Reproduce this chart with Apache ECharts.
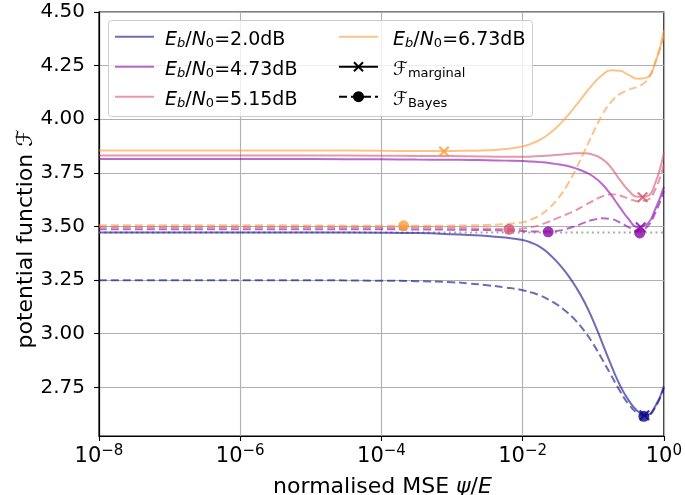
<!DOCTYPE html>
<html>
<head>
<meta charset="utf-8">
<script src="https://cdn.jsdelivr.net/npm/echarts@6/dist/echarts.min.js"></script>
<style>html,body{margin:0;padding:0;background:#fff}#c{width:685px;height:495px}</style>
</head>
<body>
<div id="c"></div>
<script>
// ---- data ----
const psi = [1e-8, 1e-5, 1e-4, 3.16e-4, 1e-3, 1.78e-3, 3.16e-3, 5.62e-3, 1e-2, 1.33e-2, 1.78e-2, 2.37e-2, 3.16e-2,
             4.22e-2, 5.62e-2, 7.5e-2, 0.1, 0.133, 0.178, 0.237, 0.316, 0.422, 0.562, 0.75, 1];
const snrLabels = ['2.0', '4.73', '5.15', '6.73'];
const colors = ['#0d0887', '#8707a6', '#d5536f', '#fa9b3a'];
const marg20   = [3.472, 3.472, 3.471, 3.469, 3.464, 3.460, 3.455, 3.448, 3.437, 3.424, 3.404, 3.372, 3.330,
                  3.280, 3.220, 3.148, 3.060, 2.960, 2.856, 2.762, 2.690, 2.640, 2.621, 2.660, 2.755];
const bayes20  = [3.249, 3.249, 3.247, 3.245, 3.240, 3.234, 3.226, 3.216, 3.203, 3.192, 3.178, 3.158, 3.133,
                  3.101, 3.062, 3.012, 2.952, 2.882, 2.808, 2.735, 2.672, 2.630, 2.617, 2.655, 2.748];
const marg473  = [3.814, 3.814, 3.813, 3.812, 3.811, 3.810, 3.809, 3.807, 3.805, 3.803, 3.800, 3.796, 3.790,
                  3.783, 3.771, 3.755, 3.733, 3.698, 3.648, 3.590, 3.535, 3.498, 3.508, 3.578, 3.685];
const bayes473 = [3.487, 3.487, 3.487, 3.486, 3.485, 3.484, 3.483, 3.481, 3.479, 3.477, 3.476, 3.476, 3.480,
                  3.489, 3.502, 3.518, 3.531, 3.538, 3.535, 3.519, 3.497, 3.477, 3.494, 3.560, 3.665];
const marg515  = [3.831, 3.831, 3.830, 3.829, 3.828, 3.827, 3.826, 3.825, 3.825, 3.826, 3.828, 3.831, 3.834,
                  3.838, 3.841, 3.841, 3.834, 3.815, 3.776, 3.718, 3.668, 3.638, 3.640, 3.700, 3.845];
const bayes515 = [3.497, 3.497, 3.496, 3.495, 3.494, 3.492, 3.490, 3.488, 3.491, 3.497, 3.508, 3.523, 3.540,
                  3.557, 3.575, 3.598, 3.620, 3.640, 3.650, 3.644, 3.630, 3.618, 3.622, 3.670, 3.790];
const marg673  = [3.854, 3.854, 3.853, 3.852, 3.852, 3.853, 3.855, 3.861, 3.873, 3.886, 3.905, 3.932, 3.968,
                  4.012, 4.062, 4.115, 4.165, 4.205, 4.228, 4.226, 4.207, 4.189, 4.193, 4.260, 4.415];
const bayes673 = [3.506, 3.505, 3.503, 3.503, 3.504, 3.505, 3.507, 3.511, 3.520, 3.533, 3.553, 3.585, 3.630,
                  3.690, 3.765, 3.850, 3.938, 4.018, 4.080, 4.117, 4.137, 4.152, 4.177, 4.262, 4.390];
const refLevel = 3.472;
// minima markers: [psi, F, colourIndex]
const margMin  = [[7.7e-4, 3.850, 3], [0.50, 3.636, 2], [0.47, 3.496, 1], [0.53, 2.620, 0]];
const bayesMin = [[2.06e-4, 3.503, 3], [6.4e-3, 3.487, 2], [2.3e-2, 3.475, 1], [0.455, 3.470, 1], [0.52, 2.615, 0]];
const yTicks = [2.75, 3.00, 3.25, 3.50, 3.75, 4.00, 4.25, 4.50];

// ---- chart ----
const FONT = 'DejaVu Sans';
const pair = ys => psi.map((x, i) => [x, ys[i]]);
function alpha(hex, a) {
  const r = parseInt(hex.slice(1, 3), 16), g = parseInt(hex.slice(3, 5), 16), b = parseInt(hex.slice(5, 7), 16);
  return `rgba(${r},${g},${b},${a})`;
}
const margSets = [marg20, marg473, marg515, marg673];
const bayesSets = [bayes20, bayes473, bayes515, bayes673];
const DASH = [8, 4];
const XPATH = 'path://M0,1.4 L1.4,0 L5,3.6 L8.6,0 L10,1.4 L6.4,5 L10,8.6 L8.6,10 L5,6.4 L1.4,10 L0,8.6 L3.6,5 Z';

const series = [];
series.push({
  type: 'line', data: [[psi[0], refLevel], [psi[psi.length - 1], refLevel]], symbol: 'none', silent: true,
  lineStyle: { color: '#aaaaaa', width: 2, type: [2, 3.3] }, z: 1
});
for (let k = 0; k < 4; k++) {
  series.push({
    type: 'line', data: pair(margSets[k]), symbol: 'none', smooth: 0.5, silent: true,
    lineStyle: { color: alpha(colors[k], 0.6), width: 2 }, z: 2
  });
  series.push({
    type: 'line', data: pair(bayesSets[k]), symbol: 'none', smooth: 0.5, silent: true,
    lineStyle: { color: alpha(colors[k], 0.6), width: 2, type: DASH }, z: 2
  });
}
series.push({
  type: 'scatter', data: margMin.map(d => ({ value: [d[0], d[1]], itemStyle: { color: colors[d[2]] } })),
  symbol: XPATH, symbolSize: 11, silent: true, z: 5
});
series.push({
  type: 'scatter', data: bayesMin.map(d => ({ value: [d[0], d[1]], itemStyle: { color: colors[d[2]] } })),
  symbol: 'circle', symbolSize: 11, silent: true, z: 5
});

function mathRich(size) {
  const sub = Math.round(size * 0.7);
  return {
    n: { fontFamily: FONT, fontSize: size, color: '#000', lineHeight: size + 5, verticalAlign: 'bottom' },
    i: { fontFamily: FONT, fontSize: size, color: '#000', fontStyle: 'italic', lineHeight: size + 5, verticalAlign: 'bottom' },
    si: { fontFamily: FONT, fontSize: sub, fontStyle: 'italic', color: '#000', lineHeight: sub, verticalAlign: 'bottom' },
    s: { fontFamily: FONT, fontSize: sub, color: '#000', lineHeight: sub, verticalAlign: 'bottom' }
  };
}
const richLegend = mathRich(19);
const richTitle = mathRich(22);

// legend (drawn as graphics)
const legend = [];
legend.push({ type: 'rect', shape: { x: 108.5, y: 20.5, width: 424, height: 96, r: 3 },
  style: { fill: 'rgba(255,255,255,0.8)', stroke: '#cccccc', lineWidth: 1 }, z: 50 });
const rowsY = [36.7, 66.7, 96.7];
const entries = [
  { col: 0, row: 0, k: 0 }, { col: 0, row: 1, k: 1 }, { col: 0, row: 2, k: 2 }, { col: 1, row: 0, k: 3 }
];
const colX = [[115, 154, 165], [339, 378, 393]];
entries.forEach(e => {
  const [x1, x2, tx] = colX[e.col];
  const y = rowsY[e.row];
  legend.push({ type: 'line', shape: { x1, y1: y, x2, y2: y }, style: { stroke: alpha(colors[e.k], 0.6), lineWidth: 2 }, z: 51 });
  legend.push({ type: 'text', x: tx, y: y + 1, z: 51, style: {
    text: `{i|E}{si|b}{n|/}{i|N}{s|0}{n|=${snrLabels[e.k]}dB}`, rich: richLegend, verticalAlign: 'middle', align: 'left' } });
});
// style entries
legend.push({ type: 'line', shape: { x1: 339, y1: 66.7, x2: 378, y2: 66.7 }, style: { stroke: '#000', lineWidth: 2 }, z: 51 });
legend.push({ type: 'line', shape: { x1: 354, y1: 62.2, x2: 363, y2: 71.2 }, style: { stroke: '#000', lineWidth: 2 }, z: 52 });
legend.push({ type: 'line', shape: { x1: 354, y1: 71.2, x2: 363, y2: 62.2 }, style: { stroke: '#000', lineWidth: 2 }, z: 52 });
legend.push({ type: 'line', shape: { x1: 339, y1: 96.7, x2: 378, y2: 96.7 }, style: { stroke: '#000', lineWidth: 2, lineDash: DASH }, z: 51 });
legend.push({ type: 'circle', shape: { cx: 358.5, cy: 96.7, r: 5.5 }, style: { fill: '#000' }, z: 52 });
legend.push({ type: 'text', x: 393, y: 67.7, z: 51, style: { text: '{n|ℱ}{s|marginal}', rich: richLegend, verticalAlign: 'middle', align: 'left' } });
legend.push({ type: 'text', x: 393, y: 97.7, z: 51, style: { text: '{n|ℱ}{s|Bayes}', rich: richLegend, verticalAlign: 'middle', align: 'left' } });

// axis titles
legend.push({ type: 'text', x: 24, y: 239, rotation: Math.PI / 2, z: 10, style: {
  text: '{n|potential function }{i|ℱ}', rich: richTitle, align: 'center', verticalAlign: 'middle' } });
legend.push({ type: 'text', x: 382.5, y: 485, z: 10, style: {
  text: '{n|normalised MSE }{i|ψ}{n|/}{i|E}', rich: richTitle, align: 'center', verticalAlign: 'middle' } });

const chart = echarts.init(document.getElementById('c'), null, { renderer: 'canvas' });
chart.setOption({
  animation: false,
  backgroundColor: '#fff',
  grid: { left: 99, right: 19, top: 12, bottom: 59, show: true, borderColor: '#000', borderWidth: 1.2, backgroundColor: 'transparent', containLabel: false },
  xAxis: {
    type: 'log', logBase: 10, min: 1e-8, max: 1, interval: 2,
    axisLine: { show: true, onZero: false, lineStyle: { color: '#000', width: 1.2 } },
    axisTick: { show: true, inside: false, length: 5, lineStyle: { color: '#000', width: 1.1 } },
    minorTick: { show: false },
    splitLine: { show: true, lineStyle: { color: '#b0b0b0', width: 1.1 } },
    axisLabel: {
      margin: 8,
      formatter: v => { const e = Math.round(Math.log10(v)); return '{b|10}{p|' + (e < 0 ? '−' + (-e) : e) + '}'; },
      rich: {
        b: { fontFamily: FONT, fontSize: 21, color: '#000', lineHeight: 26, verticalAlign: 'middle' },
        p: { fontFamily: FONT, fontSize: 15, color: '#000', lineHeight: 15, verticalAlign: 'top' }
      }
    }
  },
  yAxis: {
    type: 'value', min: 2.523, max: 4.5,
    axisLine: { show: true, lineStyle: { color: '#000', width: 1.2 } },
    axisTick: { show: true, inside: false, length: 5, customValues: yTicks, lineStyle: { color: '#000', width: 1.1 } },
    splitLine: { show: true, lineStyle: { color: '#b0b0b0', width: 1.1 } },
    axisLabel: { customValues: yTicks, margin: 14, fontFamily: FONT, fontSize: 20, color: '#000', formatter: v => v.toFixed(2) }
  },
  graphic: legend,
  series
});
</script>
</body>
</html>
